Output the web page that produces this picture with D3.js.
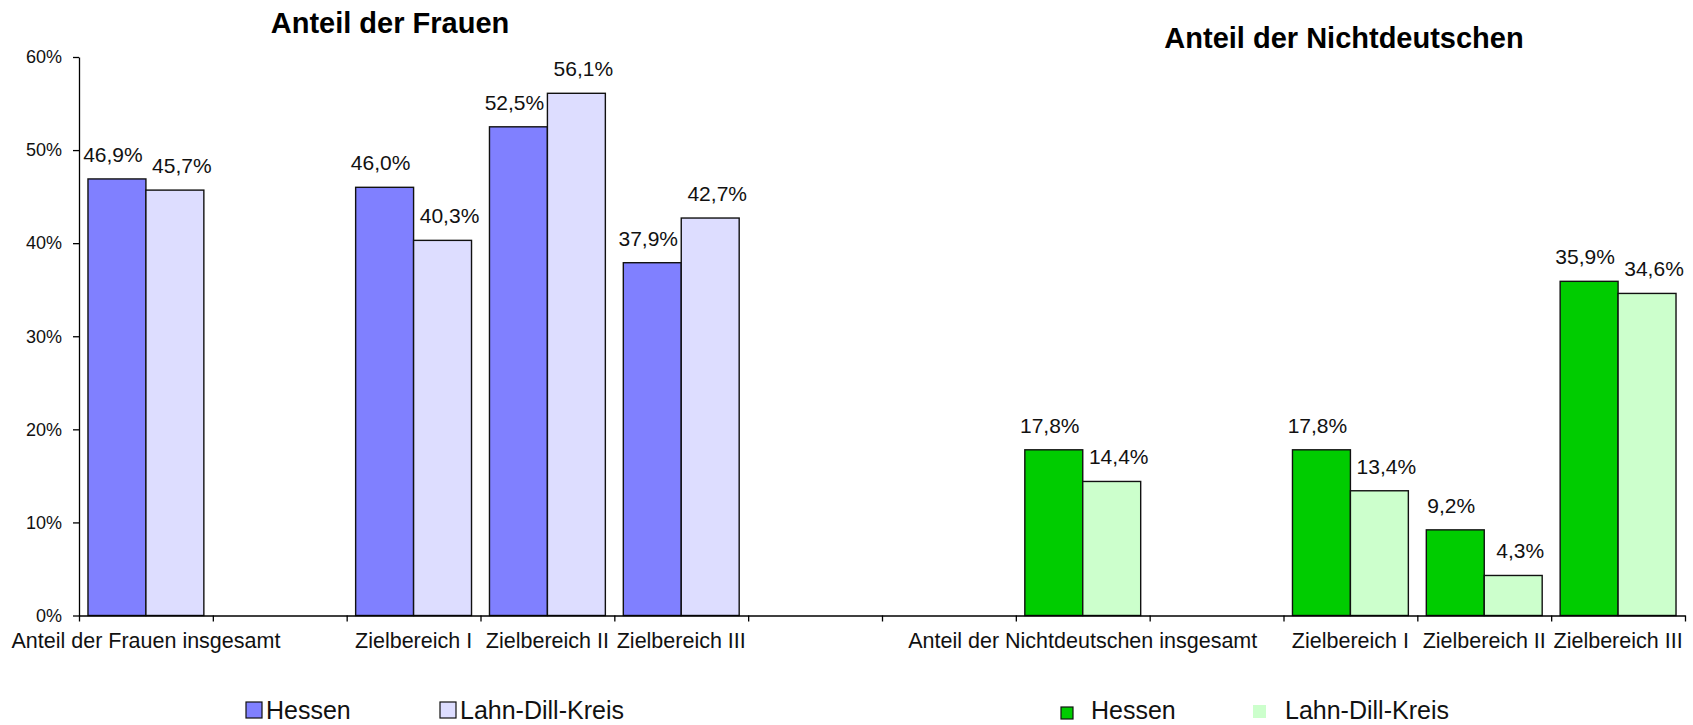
<!DOCTYPE html>
<html>
<head>
<meta charset="utf-8">
<script src="https://cdn.jsdelivr.net/npm/d3@7"></script>
<style>
  body { margin: 0; background: #fff; }
  svg { display: block; font-family: "Liberation Sans", Arial, sans-serif; }
  .axis path, .axis line { stroke: #000; stroke-width: 1.3px; }
</style>
</head>
<body>
<div id="chart"></div>
<script>
// categories along the shared x axis ("" = empty slot)
const categories = [
  "Anteil der Frauen insgesamt", "", "Zielbereich I", "Zielbereich II", "Zielbereich III",
  "", "", "Anteil der Nichtdeutschen insgesamt", "", "Zielbereich I", "Zielbereich II", "Zielbereich III"
];
const series = ["Hessen", "Lahn-Dill-Kreis"];

// Anteil der Frauen
const frauenSlots = [0, 2, 3, 4];
const frauenHessen = [46.9, 46.0, 52.5, 37.9];
const frauenLDK = [45.7, 40.3, 56.1, 42.7];

// Anteil der Nichtdeutschen
const ndSlots = [7, 9, 10, 11];
const ndHessen = [17.8, 17.8, 9.2, 35.9];
const ndLDK = [14.4, 13.4, 4.3, 34.6];

const yTicks = [0, 10, 20, 30, 40, 50, 60];

const W = 1693, H = 725;
const plot = { left: 79, right: 1685, top: 57, bottom: 615.5 };

const svg = d3.select("#chart").append("svg")
  .attr("width", W).attr("height", H);

const y = d3.scaleLinear().domain([0, 60]).range([plot.bottom, plot.top]);
const x = d3.scaleBand().domain(d3.range(categories.length)).range([plot.left, plot.right]).padding(0);
const xSub = d3.scaleBand().domain(series).range([0, x.bandwidth()])
  .paddingInner(0).paddingOuter(0.155);
const xLin = d3.scaleLinear().domain([0, categories.length]).range([plot.left, plot.right]);

const fmt = v => d3.format(".1f")(v).replace(".", ",") + "%";

function groupData(slots, a, b) {
  const out = [];
  slots.forEach((s, i) => {
    out.push({ slot: s, key: series[0], v: a[i] });
    out.push({ slot: s, key: series[1], v: b[i] });
  });
  return out;
}

const groups = [
  { data: groupData(frauenSlots, frauenHessen, frauenLDK), colors: { "Hessen": "#8080ff", "Lahn-Dill-Kreis": "#ddddff" } },
  { data: groupData(ndSlots, ndHessen, ndLDK), colors: { "Hessen": "#00cc00", "Lahn-Dill-Kreis": "#ccffcc" } }
];

// bars
groups.forEach(g => {
  svg.append("g").selectAll("rect")
    .data(g.data).enter().append("rect")
    .attr("x", d => x(d.slot) + xSub(d.key))
    .attr("y", d => y(d.v))
    .attr("width", xSub.bandwidth())
    .attr("height", d => y(0) - y(d.v))
    .attr("fill", d => g.colors[d.key])
    .attr("stroke", "#111")
    .attr("stroke-width", 1.4);

  svg.append("g").selectAll("text")
    .data(g.data).enter().append("text")
    .attr("x", d => x(d.slot) + xSub(d.key) + xSub.bandwidth() / 2 + (d.key === "Hessen" ? -4 : 7))
    .attr("y", d => y(d.v) - 17)
    .attr("text-anchor", "middle")
    .attr("font-size", 21)
    .attr("fill", "#111")
    .text(d => fmt(d.v));
});

// y axis
const yAxis = svg.append("g").attr("class", "axis")
  .attr("transform", `translate(${plot.left},0)`)
  .call(d3.axisLeft(y).tickValues(yTicks).tickFormat(d => d + "%").tickSize(6).tickSizeOuter(0).tickPadding(11));
yAxis.selectAll("text").attr("font-size", 18).attr("fill", "#111").attr("font-family", null);

// x axis line with boundary ticks
svg.append("g").attr("class", "axis")
  .attr("transform", `translate(0,${plot.bottom})`)
  .call(d3.axisBottom(xLin).tickValues(d3.range(categories.length + 1)).tickFormat("").tickSize(6).tickSizeOuter(0));

// category labels
const xLab = svg.append("g")
  .attr("transform", `translate(0,${plot.bottom})`)
  .call(d3.axisBottom(x).tickSize(0).tickFormat(i => categories[i]));
xLab.select(".domain").remove();
xLab.selectAll("text").attr("y", 32.5).attr("dy", 0)
  .attr("font-size", 21.5).attr("fill", "#111").attr("font-family", null);

// titles
svg.append("text").attr("x", 390).attr("y", 33).attr("text-anchor", "middle")
  .attr("font-size", 29).attr("font-weight", "bold").attr("fill", "#000").text("Anteil der Frauen");
svg.append("text").attr("x", 1344).attr("y", 48).attr("text-anchor", "middle")
  .attr("font-size", 29).attr("font-weight", "bold").attr("fill", "#000").text("Anteil der Nichtdeutschen");

// legends
const legends = [
  { items: [
      { name: "Hessen", color: "#8080ff", sx: 246, sy: 702, s: 16, stroke: "#111", tx: 266, ty: 719 },
      { name: "Lahn-Dill-Kreis", color: "#ddddff", sx: 440, sy: 702, s: 16, stroke: "#111", tx: 460, ty: 719 }
  ]},
  { items: [
      { name: "Hessen", color: "#00cc00", sx: 1061, sy: 707, s: 12, stroke: "#111", tx: 1091, ty: 719 },
      { name: "Lahn-Dill-Kreis", color: "#ccffcc", sx: 1253, sy: 705, s: 13, stroke: "none", tx: 1285, ty: 719 }
  ]}
];
legends.forEach(l => {
  const g = svg.append("g");
  l.items.forEach(it => {
    g.append("rect").attr("x", it.sx).attr("y", it.sy).attr("width", it.s).attr("height", it.s)
      .attr("fill", it.color).attr("stroke", it.stroke).attr("stroke-width", 1.2);
    g.append("text").attr("x", it.tx).attr("y", it.ty).attr("font-size", 25).attr("fill", "#111").text(it.name);
  });
});
</script>
</body>
</html>
